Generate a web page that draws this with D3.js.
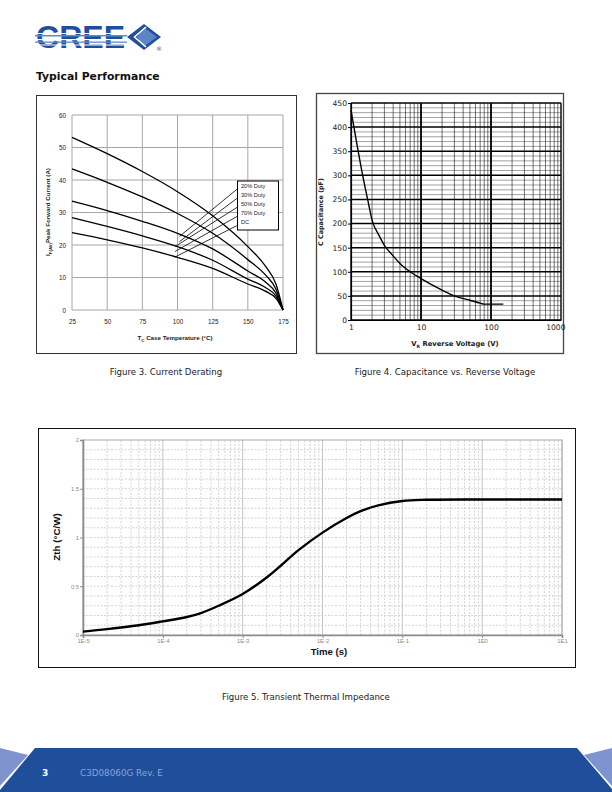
<!DOCTYPE html>
<html><head><meta charset="utf-8">
<script src="https://cdn.jsdelivr.net/npm/d3@7/dist/d3.min.js"></script>
<style>body{margin:0;background:#fff}svg{display:block}</style>
</head><body>
<script>
// ---------- DATA ----------
// Figure 3: Current Derating
const fig3Temps = [25, 50, 75, 100, 125, 150, 162.5, 170, 175];
const fig3Duty20 = [53.1, 48.1, 42.6, 36.4, 29.0, 19.5, 13.5, 8.0, 0];
const fig3Duty30 = [43.4, 39.3, 34.8, 29.7, 23.6, 15.5, 10.8, 6.4, 0];
const fig3Duty50 = [33.5, 30.6, 27.3, 23.6, 18.8, 12.0, 8.6, 5.2, 0];
const fig3Duty70 = [28.4, 25.7, 22.8, 19.5, 15.3, 9.5, 6.9, 4.3, 0];
const fig3DC = [23.8, 21.6, 19.1, 16.2, 12.8, 8.0, 5.8, 3.6, 0];
const fig3Labels = ["20% Duty", "30% Duty", "50% Duty", "70% Duty", "DC"];
const fig3XTicks = [25, 50, 75, 100, 125, 150, 175];
const fig3YTicks = [0, 10, 20, 30, 40, 50, 60];
// leader lines (data units): [T at legend, I at legend, T at curve, I at curve]
const fig3Leaders = [
  [142.4, 37.2, 101.3, 22.6],
  [142.4, 34.4, 101.3, 21.0],
  [142.4, 31.6, 98.2, 19.5],
  [142.4, 28.8, 98.2, 18.0],
  [142.4, 26.0, 97.8, 16.2]
];

// Figure 4: Capacitance vs Reverse Voltage
const fig4Voltage = [1, 1.2, 1.5, 1.8, 2, 2.5, 3, 4, 5, 7, 10, 20, 30, 50, 70, 80, 100, 150];
const fig4Capacitance = [435, 369, 293, 238, 207, 176, 155, 133, 117, 100, 86, 62, 50, 41, 35, 33, 33, 33];
const fig4XTicks = [1, 10, 100, 1000];
const fig4XTickLabels = ["1", "10", "100", "1000"];
const fig4YTicks = [0, 50, 100, 150, 200, 250, 300, 350, 400, 450];

// Figure 5: Transient Thermal Impedance
const fig5Time = [1e-5, 2e-5, 5e-5, 1e-4, 2e-4, 3e-4, 5e-4, 1e-3, 2e-3, 3e-3, 5e-3, 1e-2, 2e-2, 3e-2, 5e-2, 1e-1, 2e-1, 1, 10];
const fig5Zth = [0.035, 0.06, 0.10, 0.14, 0.185, 0.225, 0.30, 0.42, 0.59, 0.71, 0.87, 1.05, 1.20, 1.27, 1.33, 1.375, 1.387, 1.39, 1.39];
const fig5XTicks = [1e-5, 1e-4, 1e-3, 1e-2, 1e-1, 1, 10];
const fig5XTickLabels = ["1E-5", "1E-4", "1E-3", "1E-2", "1E-1", "1E0", "1E1"];
const fig5YTicks = [0, 0.5, 1, 1.5, 2];
const fig5YTickLabels = ["0", "0.5", "1", "1.5", "2"];

// ---------- DRAW ----------
const svg = d3.select("body").append("svg").attr("width", 612).attr("height", 792);
const BLUE = "#1f4f9c";

// Logo
const logo = svg.append("g");
logo.append("text").attr("x", 36).attr("y", 48).text("CREE")
  .attr("font-family", "Liberation Sans, Arial, sans-serif").attr("font-weight", "bold")
  .attr("font-size", 32).attr("fill", BLUE)
  .attr("textLength", 89).attr("lengthAdjust", "spacingAndGlyphs");
[[33, "#ffffff", 1], [35, "#5f8bcc", 1.5], [39, "#ffffff", 1.2], [41.5, "#5f8bcc", 1.3], [44.5, "#ffffff", 1]].forEach(s => {
  logo.append("rect").attr("x", 35).attr("y", s[0]).attr("width", 92).attr("height", s[2]).attr("fill", s[1]);
});
logo.append("polygon").attr("points", "127,37 144,24 161,37 144,50").attr("fill", BLUE);
logo.append("polygon").attr("points", "144,27.5 157,37 144,46.5 137,37").attr("fill", "#5b86c6");
logo.append("polyline").attr("points", "146,27 134.5,37 146,47").attr("fill", "none").attr("stroke", "#fff").attr("stroke-width", 1.6);
logo.append("text").attr("x", 156).attr("y", 51).text("®").attr("font-size", 6).attr("fill", BLUE)
  .attr("font-family", "DejaVu Sans");

// Section title
svg.append("text").attr("x", 36).attr("y", 80).text("Typical Performance")
  .attr("font-family", "DejaVu Sans, Verdana, sans-serif").attr("font-weight", "bold")
  .attr("font-size", 10.8).attr("fill", "#111");

// ===== Figure 3 =====
{
  const g = svg.append("g");
  g.append("rect").attr("x", 36.5).attr("y", 95.5).attr("width", 260).attr("height", 258)
    .attr("fill", "none").attr("stroke", "#333").attr("stroke-width", 1);
  const x = d3.scaleLinear().domain([25, 175]).range([72, 283]);
  const y = d3.scaleLinear().domain([0, 60]).range([310, 115]);
  const font = "Liberation Sans, Arial, sans-serif";
  g.selectAll(".vg").data(fig3XTicks).join("line")
    .attr("x1", d => x(d)).attr("x2", d => x(d)).attr("y1", y(0)).attr("y2", y(60))
    .attr("stroke", "#a6a6a6").attr("stroke-width", 1);
  g.selectAll(".hg").data(fig3YTicks).join("line")
    .attr("x1", x(25)).attr("x2", x(175)).attr("y1", d => y(d)).attr("y2", d => y(d))
    .attr("stroke", "#a6a6a6").attr("stroke-width", 1);
  const ax = g.append("g").attr("transform", `translate(0,${y(0)})`)
    .call(d3.axisBottom(x).tickValues(fig3XTicks).tickSize(0).tickPadding(10));
  const ay = g.append("g").attr("transform", `translate(${x(25)},0)`)
    .call(d3.axisLeft(y).tickValues(fig3YTicks).tickSize(0).tickPadding(6));
  [ax, ay].forEach(a => {
    a.select(".domain").remove();
    a.selectAll("text").attr("font-family", font).attr("font-size", 6.3).attr("fill", "#222");
  });
  const series = [fig3Duty20, fig3Duty30, fig3Duty50, fig3Duty70, fig3DC];
  const line = d3.line().x(d => x(d[0])).y(d => y(d[1])).curve(d3.curveMonotoneX);
  series.forEach(s => {
    g.append("path").attr("d", line(fig3Temps.map((t, i) => [t, s[i]])))
      .attr("fill", "none").attr("stroke", "#000").attr("stroke-width", 1.3);
  });
  g.selectAll(".ld").data(fig3Leaders).join("line")
    .attr("x1", d => x(d[0])).attr("y1", d => y(d[1])).attr("x2", d => x(d[2])).attr("y2", d => y(d[3]))
    .attr("stroke", "#000").attr("stroke-width", 0.8);
  g.append("rect").attr("x", 237.5).attr("y", 181).attr("width", 41).attr("height", 49)
    .attr("fill", "#fff").attr("stroke", "#000").attr("stroke-width", 1);
  g.selectAll(".lt").data(fig3Labels).join("text")
    .attr("x", 241).attr("y", (d, i) => 188 + i * 9.1).text(d => d)
    .attr("font-family", font).attr("font-size", 5.6).attr("fill", "#222");
  const yt = g.append("text").attr("transform", `translate(50,212) rotate(-90)`)
    .attr("text-anchor", "middle").attr("font-family", font).attr("font-weight", "bold")
    .attr("font-size", 6.2).attr("fill", "#222");
  yt.append("tspan").text("I");
  yt.append("tspan").text("F(AV)").attr("font-size", 4.3).attr("dy", 1.5);
  yt.append("tspan").text("Peak Forward Current (A)").attr("dy", -1.5);
  const xt = g.append("text").attr("x", 175).attr("y", 340)
    .attr("text-anchor", "middle").attr("font-family", font).attr("font-weight", "bold")
    .attr("font-size", 6.2).attr("fill", "#222");
  xt.append("tspan").text("T");
  xt.append("tspan").text("C").attr("font-size", 4.3).attr("dy", 1.5);
  xt.append("tspan").text(" Case Temperature (°C)").attr("dy", -1.5);
}

// ===== Figure 4 =====
{
  const g = svg.append("g");
  g.append("rect").attr("x", 316.5).attr("y", 93.5).attr("width", 247).attr("height", 260)
    .attr("fill", "none").attr("stroke", "#444").attr("stroke-width", 1.3);
  const x = d3.scaleLog().domain([1, 1000]).range([351, 561]);
  const y = d3.scaleLinear().domain([0, 450]).range([320, 103]);
  const font = "DejaVu Sans, Verdana, sans-serif";
  const minorY = d3.range(0, 451, 10);
  g.selectAll(".hm").data(minorY).join("line")
    .attr("x1", x(1)).attr("x2", x(1000)).attr("y1", d => y(d)).attr("y2", d => y(d))
    .attr("stroke", d => d % 50 === 0 ? "#000" : "#555")
    .attr("stroke-width", d => d % 50 === 0 ? 1.5 : 0.55);
  const minorX = [];
  [1, 10, 100].forEach(dec => { for (let k = 1; k <= 10; k++) minorX.push(dec * k); });
  g.selectAll(".vm").data(minorX).join("line")
    .attr("x1", d => x(d)).attr("x2", d => x(d)).attr("y1", y(0)).attr("y2", y(450))
    .attr("stroke", "#000")
    .attr("stroke-width", d => fig4XTicks.includes(d) ? 1.4 : 0.55);
  const ay = g.append("g").attr("transform", `translate(${x(1)},0)`)
    .call(d3.axisLeft(y).tickValues(fig4YTicks).tickSize(3).tickPadding(1));
  const ax = g.append("g").attr("transform", `translate(0,${y(0)})`)
    .call(d3.axisBottom(x).tickValues(fig4XTicks).tickFormat((d, i) => fig4XTickLabels[i]).tickSize(0).tickPadding(5));
  [ax, ay].forEach(a => {
    a.select(".domain").attr("stroke", "#000").attr("stroke-width", 1.2);
    a.selectAll("line").attr("stroke", "#000");
    a.selectAll("text").attr("font-family", font).attr("font-size", 7.6).attr("fill", "#222");
  });
  ax.selectAll("text").filter((d) => d === 1000).attr("text-anchor", "end").attr("dx", 4);
  const line = d3.line().x(d => x(d[0])).y(d => y(d[1])).curve(d3.curveMonotoneX);
  g.append("path").attr("d", line(fig4Voltage.map((v, i) => [v, fig4Capacitance[i]])))
    .attr("fill", "none").attr("stroke", "#000").attr("stroke-width", 1.4);
  g.append("text").attr("transform", "translate(323,212) rotate(-90)").attr("text-anchor", "middle")
    .attr("font-family", font).attr("font-weight", "bold").attr("font-size", 6.4).attr("fill", "#222")
    .text("C Capacitance (pF)");
  const xt = g.append("text").attr("x", 455).attr("y", 346).attr("text-anchor", "middle")
    .attr("font-family", font).attr("font-weight", "bold").attr("font-size", 6.8).attr("fill", "#222");
  xt.append("tspan").text("V");
  xt.append("tspan").text("R").attr("font-size", 4.5).attr("dy", 1.5);
  xt.append("tspan").text(" Reverse Voltage (V)").attr("dy", -1.5);
}

// Captions
const capFont = "DejaVu Sans, Verdana, sans-serif";
svg.append("text").attr("x", 166).attr("y", 375).attr("text-anchor", "middle").text("Figure 3. Current Derating")
  .attr("font-family", capFont).attr("font-size", 8.6).attr("fill", "#222");
svg.append("text").attr("x", 445).attr("y", 375).attr("text-anchor", "middle").text("Figure 4. Capacitance vs. Reverse Voltage")
  .attr("font-family", capFont).attr("font-size", 8.6).attr("fill", "#222");
svg.append("text").attr("x", 306).attr("y", 700).attr("text-anchor", "middle").text("Figure 5. Transient Thermal Impedance")
  .attr("font-family", capFont).attr("font-size", 8.6).attr("fill", "#222");

// ===== Figure 5 =====
{
  const g = svg.append("g");
  g.append("rect").attr("x", 38.5).attr("y", 428.5).attr("width", 537).attr("height", 239)
    .attr("fill", "none").attr("stroke", "#111").attr("stroke-width", 1);
  const x = d3.scaleLog().domain([1e-5, 10]).range([83, 562]);
  const y = d3.scaleLinear().domain([0, 2]).range([635, 440]);
  const font = "Liberation Sans, Arial, sans-serif";
  const minorX = [];
  [1e-5, 1e-4, 1e-3, 1e-2, 1e-1, 1].forEach(dec => { for (let k = 2; k <= 9; k++) minorX.push(dec * k); });
  g.selectAll(".vm").data(minorX).join("line")
    .attr("x1", d => x(d)).attr("x2", d => x(d)).attr("y1", y(0)).attr("y2", y(2))
    .attr("stroke", "#c8c8c8").attr("stroke-width", 0.8).attr("stroke-dasharray", "2,1.5");
  g.selectAll(".vM").data(fig5XTicks).join("line")
    .attr("x1", d => x(d)).attr("x2", d => x(d)).attr("y1", y(0)).attr("y2", y(2))
    .attr("stroke", "#bdbdbd").attr("stroke-width", 0.9);
  const minorY = d3.range(1, 20).map(i => i / 10);
  g.selectAll(".hm").data(minorY).join("line")
    .attr("x1", x(1e-5)).attr("x2", x(10)).attr("y1", d => y(d)).attr("y2", d => y(d))
    .attr("stroke", "#c8c8c8").attr("stroke-width", 0.8).attr("stroke-dasharray", "2,1.5");
  g.append("rect").attr("x", x(1e-5)).attr("y", y(2)).attr("width", x(10) - x(1e-5)).attr("height", y(0) - y(2))
    .attr("fill", "none").attr("stroke", "#a8a8a8").attr("stroke-width", 1);
  const ax = g.append("g").attr("transform", `translate(0,${y(0)})`)
    .call(d3.axisBottom(x).tickValues(fig5XTicks).tickFormat((d, i) => fig5XTickLabels[i]).tickSize(3).tickPadding(1));
  const ay = g.append("g").attr("transform", `translate(${x(1e-5)},0)`)
    .call(d3.axisLeft(y).tickValues(fig5YTicks).tickFormat((d, i) => fig5YTickLabels[i]).tickSize(3).tickPadding(1));
  [ax, ay].forEach(a => {
    a.select(".domain").attr("stroke", "#8c8c8c").attr("stroke-width", 1.6);
    a.selectAll(".tick line").attr("stroke", "#8c8c8c");
    a.selectAll("text").attr("font-family", font).attr("font-size", 5.8).attr("fill", "#8a8a8a");
  });
  const line = d3.line().x(d => x(d[0])).y(d => y(d[1])).curve(d3.curveCatmullRom.alpha(0.5));
  g.append("path").attr("d", line(fig5Time.map((t, i) => [t, fig5Zth[i]])))
    .attr("fill", "none").attr("stroke", "#000").attr("stroke-width", 2.4);
  g.append("text").attr("transform", "translate(60,537) rotate(-90)").attr("text-anchor", "middle")
    .attr("font-family", font).attr("font-weight", "bold").attr("font-size", 9.8).attr("fill", "#111")
    .text("Zth (°C/W)");
  g.append("text").attr("x", 329).attr("y", 655).attr("text-anchor", "middle")
    .attr("font-family", font).attr("font-weight", "bold").attr("font-size", 9.6).attr("fill", "#111")
    .text("Time (s)");
}

// ===== Footer =====
{
  const g = svg.append("g");
  g.append("polygon").attr("points", "35,748 577,748 612,789 612,792 0,792 0,790").attr("fill", "#1f4f9b");
  g.append("polygon").attr("points", "0,748 28,755 0,786").attr("fill", "#7f93cf");
  g.append("polygon").attr("points", "612,748 584,755 612,786").attr("fill", "#7f93cf");
  g.append("text").attr("x", 42).attr("y", 776).text("3").attr("font-family", "DejaVu Sans, sans-serif")
    .attr("font-weight", "bold").attr("font-size", 9).attr("fill", "#fff");
  g.append("text").attr("x", 80).attr("y", 776).text("C3D08060G Rev. E").attr("font-family", "DejaVu Sans, sans-serif")
    .attr("font-size", 8.8).attr("fill", "#8ea2d6");
}
</script>
</body></html>
